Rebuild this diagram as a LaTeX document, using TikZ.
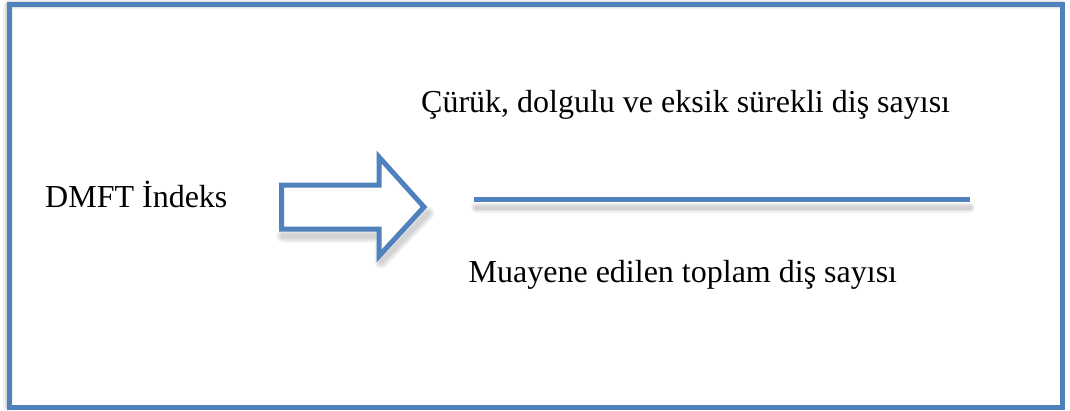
\documentclass[tikz,border=0pt]{standalone}
\usepackage{fontspec}
\setmainfont{Liberation Serif}
\definecolor{frameblue}{HTML}{4F81BD}
\tikzset{
  x=1pt, y=-1pt,
  bluestroke/.style={draw=frameblue, line width=5pt},
  label/.style={anchor=base west, inner sep=0pt, font=\fontsize{32}{38}\selectfont, text=black},
  softshadow/.style={draw=black, opacity=0.06, line cap=round, line join=round}
}
\begin{document}
\begin{tikzpicture}
\useasboundingbox (0,0) rectangle (1070,410);
\fill[white] (0,0) rectangle (1070,410);

% soft shadow around the outer frame
\foreach \w in {4,7,10}{
  \draw[softshadow, line width=\w pt] (8,6) -- (8,406);
  \draw[softshadow, line width=\w pt] (11,4) -- (1060,4);
}
% outer frame
\draw[bluestroke] (9.5,4.5) rectangle (1062.5,407.5);

% shadow of the block arrow
\foreach \w in {5,9,13}{
  \draw[softshadow, line width=\w pt] (283,236) -- (381,236) -- (381,262) -- (428,213);
}
% block arrow
\draw[bluestroke, fill=white, line join=miter]
  (281.5,185) -- (379,185) -- (379,157) -- (424,207) -- (379,256) -- (379,229) -- (281.5,229) -- cycle;

% shadow of the fraction bar
\foreach \w in {4,7,10}{
  \draw[softshadow, line width=\w pt] (476,207.5) -- (970,207.5);
}
% fraction bar
\coordinate (barL) at (474,199.5);
\coordinate (barR) at (970,199.5);
\draw[draw=frameblue, line width=5pt] (barL) -- (barR);

% texts
\node[label] (dmft) at (45,207.3) {DMFT İndeks};
\node[label] (num) at (421,112.7) {Çürük, dolgulu ve eksik sürekli diş sayısı};
\node[label] (den) at (468.5,282.7) {Muayene edilen toplam diş sayısı};
\end{tikzpicture}
\end{document}
